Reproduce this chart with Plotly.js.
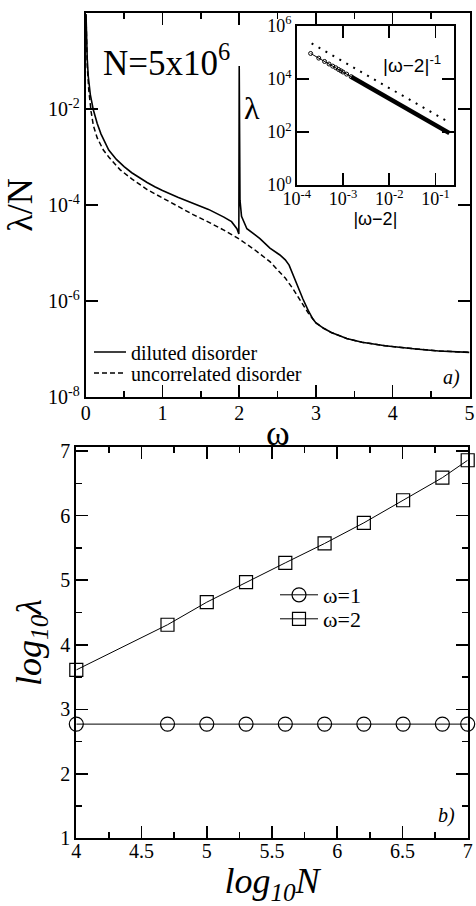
<!DOCTYPE html>
<html>
<head>
<meta charset="utf-8">
<script src="https://cdn.plot.ly/plotly-3.0.1.min.js"></script>
<style>html,body{margin:0;padding:0;background:#fff;}#chart{width:476px;height:906px;}</style>
</head>
<body>
<div id="chart"></div>
<script>
// ---- Panel a): lambda/N versus omega (N = 5x10^6) ----
const omegaDiluted = [0.004,0.01,0.02,0.034,0.06,0.1,0.15,0.2,0.3,0.4,0.5,0.6,0.7,0.8,0.9,1.0,1.2,1.4,1.6,1.8,1.9,1.97,1.995,2.0,2.003,2.01,2.03,2.1,2.27,2.4,2.53,2.6,2.65,2.7,2.75,2.83,2.9,2.96,3.0,3.1,3.2,3.4,3.6,3.9,4.3,4.6,5.0];
const lambdaDiluted = [0.95,0.32,0.11,0.047,0.02,0.0095,0.005,0.003,1.4e-3,8.9e-4,6.3e-4,4.7e-4,3.7e-4,2.95e-4,2.4e-4,2.0e-4,1.45e-4,1.07e-4,8.1e-5,5.6e-5,4.5e-5,3.2e-5,2.5e-5,0.079,1.0e-3,1.26e-4,5.8e-5,3.2e-5,2.0e-5,1.26e-5,9.1e-6,7.2e-6,5.6e-6,3.5e-6,2.3e-6,1.1e-6,6.3e-7,4.2e-7,3.5e-7,2.7e-7,2.2e-7,1.66e-7,1.38e-7,1.17e-7,1.0e-7,9.1e-8,8.5e-8];
const omegaUncorr = [0.004,0.01,0.02,0.04,0.07,0.1,0.15,0.23,0.3,0.45,0.6,0.8,1.0,1.2,1.4,1.6,1.8,2.0,2.2,2.4,2.6,2.7,2.8,2.9,3.0,3.1,3.2,3.4,3.6,3.9,4.3,4.6,5.0];
const lambdaUncorr = [0.9,0.25,0.079,0.025,8.9e-3,4.5e-3,2.5e-3,1.4e-3,1.0e-3,5.4e-4,3.5e-4,2.1e-4,1.4e-4,9.3e-5,6.3e-5,4.4e-5,3.0e-5,1.95e-5,1.17e-5,6.6e-6,3.0e-6,1.8e-6,1.0e-6,5.6e-7,3.5e-7,2.7e-7,2.2e-7,1.66e-7,1.38e-7,1.17e-7,1.0e-7,9.1e-8,8.5e-8];
const seriesNamesA = ["diluted disorder","uncorrelated disorder"];
const xTicksA = [0,1,2,3,4,5];
const yTickValsA = [1,1e-2,1e-4,1e-6,1e-8];
const yTickTextA = ["10<sup>0</sup>","10<sup>-2</sup>","10<sup>-4</sup>","10<sup>-6</sup>","10<sup>-8</sup>"];

// ---- Inset: lambda versus |omega-2| ----
const insetDistSparse = [2e-4,3e-4,4e-4,5e-4,6e-4,7e-4,8e-4,9e-4,1e-3,1.2e-3,1.5e-3];
const insetLambdaSparse = [9.0e4,6.0e4,4.5e4,3.6e4,3.0e4,2.6e4,2.25e4,2.0e4,1.8e4,1.5e4,1.2e4];
const insetDistDense = [1.5e-3,2e-3,3e-3,5e-3,7e-3,0.01,0.015,0.02,0.03,0.05,0.07,0.1,0.15,0.2];
const insetLambdaDense = [1.2e4,9000,6000,3600,2570,1800,1200,900,600,360,257,180,120,90];
const guideDist = [2.1e-4,0.19];
const guideLambda = [2.14e5,237];
const insetXTickVals = [1e-4,1e-3,1e-2,1e-1];
const insetXTickText = ["10<sup>-4</sup>","10<sup>-3</sup>","10<sup>-2</sup>","10<sup>-1</sup>"];
const insetYTickVals = [1,1e2,1e4,1e6];
const insetYTickText = ["10<sup>0</sup>","10<sup>2</sup>","10<sup>4</sup>","10<sup>6</sup>"];

// ---- Panel b): log10(lambda) versus log10(N) ----
const log10N = [4,4.699,5,5.301,5.602,5.903,6.204,6.505,6.806,7];
const logLambdaW1 = [2.77,2.77,2.77,2.77,2.77,2.77,2.77,2.77,2.77,2.77];
const logLambdaW2 = [3.61,4.31,4.66,4.97,5.27,5.57,5.89,6.24,6.59,6.86];
const seriesNamesB = ["ω=1","ω=2"];

const SERIF = "Liberation Serif";
const SANS = "Liberation Sans";
const W = 476, H = 906;
const px = v => v / W;
const py = v => 1 - v / H;

const traces = [
  {x: omegaDiluted, y: lambdaDiluted, xaxis:'x', yaxis:'y', type:'scatter', mode:'lines',
   name: seriesNamesA[0], line:{color:'#000', width:1.6}, legend:'legend'},
  {x: omegaUncorr, y: lambdaUncorr, xaxis:'x', yaxis:'y', type:'scatter', mode:'lines',
   name: seriesNamesA[1], line:{color:'#000', width:1.5, dash:'5px,3px'}, legend:'legend2'},
  {x: guideDist, y: guideLambda, xaxis:'x2', yaxis:'y2', type:'scatter', mode:'lines',
   line:{color:'#000', width:2, dash:'2px,6px'}, showlegend:false},
  {x: insetDistDense, y: insetLambdaDense, xaxis:'x2', yaxis:'y2', type:'scatter', mode:'lines',
   line:{color:'#000', width:4.5}, showlegend:false},
  {x: insetDistSparse, y: insetLambdaSparse, xaxis:'x2', yaxis:'y2', type:'scatter', mode:'lines+markers',
   line:{color:'#000', width:1}, marker:{symbol:'circle-open', size:4, color:'#000', line:{width:1, color:'#000'}}, showlegend:false},
  {x: log10N, y: logLambdaW1, xaxis:'x3', yaxis:'y3', type:'scatter', mode:'lines+markers',
   name: seriesNamesB[0], line:{color:'#000', width:1},
   marker:{symbol:'circle-open', size:14, color:'#000', line:{width:1.2, color:'#000'}}, legend:'legend3', cliponaxis:false},
  {x: log10N, y: logLambdaW2, xaxis:'x3', yaxis:'y3', type:'scatter', mode:'lines+markers',
   name: seriesNamesB[1], line:{color:'#000', width:1},
   marker:{symbol:'square-open', size:13, color:'#000', line:{width:1.2, color:'#000'}}, legend:'legend4', cliponaxis:false}
];

const axCommon = {
  showgrid:false, zeroline:false, showline:true, linecolor:'#000', linewidth:2,
  mirror:'allticks', ticks:'inside', ticklen:12, tickwidth:1.5, tickcolor:'#000',
  tickfont:{family:SERIF, size:20, color:'#000'}, automargin:false, fixedrange:true
};
const legCommon = {xanchor:'left', yanchor:'middle', bgcolor:'rgba(0,0,0,0)', borderwidth:0, tracegroupgap:0};

const layout = {
  width:W, height:H, margin:{l:0,r:0,t:0,b:0},
  paper_bgcolor:'#fff', plot_bgcolor:'#fff', showlegend:true,
  font:{family:SERIF, color:'#000'},
  xaxis: Object.assign({}, axCommon, {
    domain:[px(85.7), px(469.5)], range:[0,5], anchor:'y',
    tickvals:xTicksA, ticklabelstandoff:-3,
    minor:{dtick:0.5, ticklen:6, tickwidth:1.5, ticks:'inside', tickcolor:'#000'}
  }),
  yaxis: Object.assign({}, axCommon, {
    domain:[py(397), py(13)], type:'log', range:[-8,0], anchor:'x',
    tickvals:yTickValsA, ticktext:yTickTextA,
    title:{text:'λ/N', font:{family:SERIF, size:36}, standoff:4}
  }),
  xaxis2: Object.assign({}, axCommon, {
    domain:[px(296.7), px(454)], type:'log', range:[-4,-0.6], anchor:'y2', linewidth:1.5,
    tickvals:insetXTickVals, ticktext:insetXTickText, tickfont:{family:SERIF, size:18, color:'#000'},
    ticklabelstandoff:-3,
    title:{text:'|ω−2|', font:{family:SANS, size:18}, standoff:1}
  }),
  yaxis2: Object.assign({}, axCommon, {
    domain:[py(185), py(25.7)], type:'log', range:[0,6], anchor:'x2', linewidth:1.5,
    tickvals:insetYTickVals, ticktext:insetYTickText, tickfont:{family:SERIF, size:18, color:'#000'}
  }),
  xaxis3: Object.assign({}, axCommon, {
    domain:[px(76.3), px(467.7)], range:[4,7], anchor:'y3', dtick:0.5, ticklabelstandoff:-6,
    minor:{dtick:0.25, ticklen:6, tickwidth:1.5, ticks:'inside', tickcolor:'#000'},
    title:{text:'<i>log<sub>10</sub>N</i>', font:{family:SERIF, size:36}, standoff:0}
  }),
  yaxis3: Object.assign({}, axCommon, {
    domain:[py(838.3), py(446.7)], range:[1,7.07], anchor:'x3', dtick:1,
    minor:{dtick:0.5, ticklen:6, tickwidth:1.5, ticks:'inside', tickcolor:'#000'},
    title:{text:'<i>log<sub>10</sub>λ</i>', font:{family:SERIF, size:36}, standoff:8}
  }),
  legend: Object.assign({}, legCommon, {x:px(89), y:py(352), itemwidth:32, font:{family:SERIF, size:20, color:'#000'}}),
  legend2: Object.assign({}, legCommon, {x:px(89), y:py(373), itemwidth:32, font:{family:SERIF, size:20, color:'#000'}}),
  legend3: Object.assign({}, legCommon, {x:px(275), y:py(595), itemwidth:38, font:{family:SERIF, size:22, color:'#000'}}),
  legend4: Object.assign({}, legCommon, {x:px(275), y:py(619), itemwidth:38, font:{family:SERIF, size:22, color:'#000'}}),
  annotations:[
    {text:'ω', x:px(278), y:py(446), xref:'paper', yref:'paper', xanchor:'center', yanchor:'bottom',
     showarrow:false, font:{family:SERIF, size:36, color:'#000'}, borderpad:0, yshift:-8},
    {text:'N=5x10<sup>6</sup>', x:px(101), y:py(60), xref:'paper', yref:'paper', xanchor:'left', yanchor:'middle',
     showarrow:false, font:{family:SERIF, size:35, color:'#000'}},
    {text:'λ', x:px(252), y:py(108), xref:'paper', yref:'paper', xanchor:'center', yanchor:'middle',
     showarrow:false, font:{family:SERIF, size:32, color:'#000'}},
    {text:'|ω−2|<sup>-1</sup>', x:px(412), y:py(64), xref:'paper', yref:'paper', xanchor:'center', yanchor:'middle',
     showarrow:false, font:{family:SANS, size:19, color:'#000'}},
    {text:'<i>a)</i>', x:px(462), y:py(377), xref:'paper', yref:'paper', xanchor:'right', yanchor:'middle',
     showarrow:false, font:{family:SERIF, size:20, color:'#000'}},
    {text:'<i>b)</i>', x:px(457), y:py(815), xref:'paper', yref:'paper', xanchor:'right', yanchor:'middle',
     showarrow:false, font:{family:SERIF, size:20, color:'#000'}}
  ]
};

Plotly.newPlot('chart', traces, layout, {staticPlot:true, displayModeBar:false});
</script>
</body>
</html>
